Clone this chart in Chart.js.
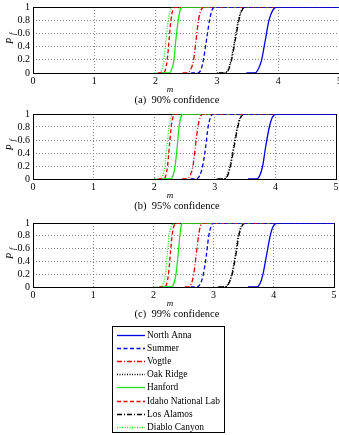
<!DOCTYPE html>
<html>
<head>
<meta charset="utf-8">
<script src="https://cdn.jsdelivr.net/npm/chart.js@4.4.1/dist/chart.umd.min.js"></script>
<style>
  html, body { margin: 0; padding: 0; background: #fff; width: 339px; height: 435px; overflow: hidden; }
  canvas { position: absolute; left: 0; }
</style>
</head>
<body>
<canvas id="c90" width="346" height="108" style="top:0px"></canvas>
<canvas id="c95" width="339" height="107" style="top:107px"></canvas>
<canvas id="c99" width="339" height="220" style="top:215px"></canvas>
<script>
// site names, in legend order
const names = ['North Anna', 'Summer', 'Vogtle', 'Oak Ridge', 'Hanford', 'Idaho National Lab', 'Los Alamos', 'Diablo Canyon'];

// P_f value at each point of a curve
const levels = [0, 0, 0.05, 0.2, 0.5, 0.8, 0.95, 1, 1];

// m values where each curve reaches the levels above
const xs90 = [
  [3.48, 3.62, 3.67, 3.73, 3.79, 3.85, 3.91, 3.98, 5],
  [2.58, 2.68, 2.74, 2.78, 2.83, 2.88, 2.92, 2.96, 5],
  [2.44, 2.52, 2.57, 2.62, 2.66, 2.70, 2.74, 2.79, 5],
  [3.00, 3.12, 3.18, 3.23, 3.29, 3.35, 3.40, 3.47, 5],
  [2.10, 2.22, 2.26, 2.30, 2.33, 2.37, 2.40, 2.44, 5],
  [2.04, 2.12, 2.16, 2.19, 2.22, 2.25, 2.28, 2.32, 5],
  [3.03, 3.13, 3.19, 3.24, 3.30, 3.36, 3.41, 3.48, 5],
  [1.98, 2.06, 2.10, 2.135, 2.17, 2.205, 2.24, 2.28, 5]
];
const xs95 = [
  [3.55, 3.69, 3.74, 3.79, 3.84, 3.90, 3.95, 4.02, 5],
  [2.60, 2.69, 2.75, 2.80, 2.85, 2.89, 2.93, 2.97, 5],
  [2.46, 2.53, 2.59, 2.64, 2.68, 2.72, 2.76, 2.80, 5],
  [3.03, 3.14, 3.20, 3.25, 3.31, 3.37, 3.42, 3.49, 5],
  [2.12, 2.27, 2.31, 2.345, 2.38, 2.41, 2.44, 2.48, 5],
  [2.07, 2.16, 2.19, 2.22, 2.25, 2.28, 2.31, 2.35, 5],
  [3.05, 3.15, 3.21, 3.26, 3.32, 3.38, 3.43, 3.50, 5],
  [2.00, 2.10, 2.14, 2.175, 2.21, 2.245, 2.28, 2.32, 5]
];
const xs99 = [
  [3.57, 3.71, 3.77, 3.82, 3.88, 3.94, 3.99, 4.06, 5],
  [2.62, 2.72, 2.78, 2.83, 2.88, 2.92, 2.96, 3.00, 5],
  [2.52, 2.58, 2.63, 2.67, 2.71, 2.75, 2.78, 2.82, 5],
  [3.07, 3.18, 3.24, 3.30, 3.36, 3.41, 3.46, 3.53, 5],
  [2.15, 2.29, 2.34, 2.375, 2.41, 2.44, 2.46, 2.49, 5],
  [2.10, 2.19, 2.22, 2.25, 2.28, 2.31, 2.34, 2.38, 5],
  [3.09, 3.19, 3.25, 3.31, 3.37, 3.42, 3.47, 3.54, 5],
  [2.02, 2.12, 2.16, 2.20, 2.23, 2.26, 2.30, 2.34, 5]
];

const xTickLabels = ['0', '1', '2', '3', '4', '5'];
const yTickLabels = ['0', '0.2', '0.4', '0.6', '0.8', '1'];

const colors = ['#0000e6', '#0000e6', '#e00000', '#000000', '#22e022', '#e00000', '#000000', '#22e022'];
const dashes = [[], [4, 2.5], [5, 2, 1, 2], [1, 1.5], [], [4, 2.5], [5, 2, 1, 2], [1, 1.5]];

const FONT = "'Liberation Serif', 'Times New Roman', serif";

// axes box, x label, caption and the P_f label
const panelText = {
  id: 'panelText',
  beforeDatasetsDraw(chart, args, o) {
    const { ctx, chartArea: a } = chart;
    ctx.save();
    ctx.strokeStyle = '#000';
    ctx.lineWidth = 1;
    ctx.strokeRect(Math.round(a.left) + 0.5, Math.round(a.top) + 0.5,
      Math.round(a.right - a.left), Math.round(a.bottom - a.top));
    ctx.restore();
  },
  afterDraw(chart, args, o) {
    const { ctx, chartArea: a } = chart;
    ctx.save();
    ctx.fillStyle = '#000';
    ctx.textAlign = 'center';
    ctx.textBaseline = 'middle';
    ctx.font = `italic 9px ${FONT}`;
    ctx.fillText('m', o.titleX, a.bottom + o.titleDy);
    ctx.font = `10.5px ${FONT}`;
    ctx.fillText(o.caption, o.captionX, a.bottom + o.captionDy);
    ctx.translate(10, (a.top + a.bottom) / 2);
    ctx.rotate(-Math.PI / 2);
    ctx.font = `italic 10px ${FONT}`;
    ctx.fillText('P', -1, 0);
    ctx.font = `italic 8px ${FONT}`;
    ctx.fillText('f', 6, 3);
    ctx.restore();
  }
};

// boxed legend below the last panel
const boxLegend = {
  id: 'boxLegend',
  afterDraw(chart, args, o) {
    if (!o.show) return;
    const ctx = chart.ctx;
    ctx.save();
    ctx.fillStyle = '#fff';
    ctx.fillRect(o.left, o.top, o.width, o.height);
    ctx.strokeStyle = '#000';
    ctx.lineWidth = 1;
    ctx.strokeRect(o.left + 0.5, o.top + 0.5, o.width, o.height);
    ctx.font = `9.4px ${FONT}`;
    ctx.textAlign = 'left';
    ctx.textBaseline = 'middle';
    chart.data.datasets.forEach((ds, i) => {
      const y = Math.round(o.top + o.first + i * o.step) + 0.5;
      ctx.strokeStyle = ds.borderColor;
      ctx.lineWidth = ds.borderWidth;
      ctx.setLineDash(ds.borderDash);
      ctx.beginPath();
      ctx.moveTo(o.lineX0, y);
      ctx.lineTo(o.lineX1, y);
      ctx.stroke();
      ctx.setLineDash([]);
      ctx.fillStyle = '#000';
      ctx.fillText(ds.label, o.textX, y);
    });
    ctx.restore();
  }
};

function makeChart(id, xs, padding, caption, legend) {
  const datasets = names.map((n, i) => ({
    label: n,
    data: xs[i].map((x, j) => ({ x: x, y: levels[j] })),
    borderColor: colors[i],
    borderDash: dashes[i],
    borderWidth: 1.3,
    pointRadius: 0,
    fill: false,
    cubicInterpolationMode: 'monotone'
  }));
  return new Chart(document.getElementById(id), {
    type: 'line',
    data: { datasets },
    options: {
      responsive: false,
      animation: false,
      events: [],
      layout: { padding },
      plugins: {
        legend: { display: false },
        tooltip: { enabled: false },
        panelText: { titleX: 170, titleDy: 17, caption, captionX: 177, captionDy: 27 },
        boxLegend: legend || { show: false }
      },
      scales: {
        x: {
          type: 'linear', min: 0, max: 5,
          ticks: {
            stepSize: 1, color: '#000', padding: 2, maxRotation: 0, autoSkip: false,
            font: { family: FONT, size: 10 },
            callback: (v, i) => xTickLabels[i]
          },
          grid: { color: '#888', drawTicks: false },
          border: { display: false, dash: [1, 2] },
          afterFit(s) { s.height = 14; s.paddingLeft = 0; s.paddingRight = 0; }
        },
        y: {
          min: 0, max: 1,
          ticks: {
            stepSize: 0.2, color: '#000', padding: 3, autoSkip: false,
            font: { family: FONT, size: 10 },
            callback: (v, i) => yTickLabels[i]
          },
          grid: { color: '#888', drawTicks: false },
          border: { display: false, dash: [1, 2] },
          afterFit(s) { s.width = 33; s.paddingTop = 0; s.paddingBottom = 0; }
        }
      }
    },
    plugins: [panelText, boxLegend]
  });
}

makeChart('c90', xs90, { left: 0, top: 7, right: 6.5, bottom: 21 }, '(a)  90% confidence');
makeChart('c95', xs95, { left: 0, top: 7, right: 3, bottom: 21 }, '(b)  95% confidence');
makeChart('c99', xs99, { left: 0, top: 8, right: 5, bottom: 134 }, '(c)  99% confidence',
  { show: true, left: 112, top: 111, width: 112, height: 106, first: 9, step: 13.1, lineX0: 117, lineX1: 145, textX: 147 });
</script>
</body>
</html>
